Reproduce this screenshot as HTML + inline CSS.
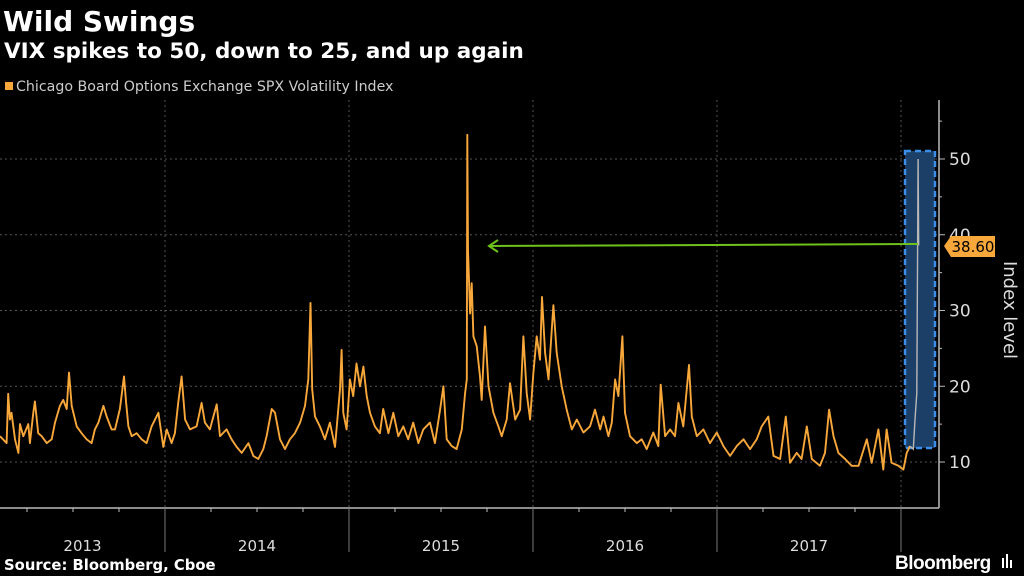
<!DOCTYPE html>
<html><head><meta charset="utf-8">
<style>
html,body{margin:0;padding:0;background:#000;width:1024px;height:576px;overflow:hidden;}
svg{display:block;font-family:"DejaVu Sans","Liberation Sans",sans-serif;}
</style></head>
<body>
<svg id="chart" width="1024" height="576" viewBox="0 0 1024 576">
  <text x="3" y="31" fill="#fff" font-size="28" font-weight="bold">Wild Swings</text>
  <text x="4" y="58" fill="#fff" font-size="21.5" font-weight="bold">VIX spikes to 50, down to 25, and up again</text>
  <g>
    <rect x="5" y="82" width="8" height="8" fill="#f8a73a"/>
    <text x="16" y="91" fill="#ccc" font-size="14.2">Chicago Board Options Exchange SPX Volatility Index</text>
  </g>
  <g id="grid"></g>
  <g id="xaxis"></g>
  <g id="yaxis"></g>
  <rect x="905" y="151" width="30" height="297" fill="#1b3f66" stroke="#3b8fe8" stroke-width="2.5" stroke-dasharray="6,4"/>
  <g id="series"></g>
  <g>
    <line x1="918" y1="244" x2="489" y2="246" stroke="#6fc21b" stroke-width="2"/>
    <polyline points="498,240 489,246 498,252" fill="none" stroke="#6fc21b" stroke-width="2"/>
  </g>
  <g>
    <path d="M944,246 L951,236 L995,236 L995,257 L951,257 Z" fill="#f8a73a"/>
    <text x="973" y="252" fill="#000" font-size="15" text-anchor="middle">38.60</text>
  </g>
  <text transform="translate(1004,310) rotate(90)" fill="#ddd" font-size="18" text-anchor="middle">Index level</text>
  <text x="4" y="570" fill="#fff" font-size="14.8" font-weight="bold">Source: Bloomberg, Cboe</text>
  <text x="895" y="569" fill="#fff" font-size="19" font-weight="bold" letter-spacing="-0.5" font-family="Liberation Sans, sans-serif">Bloomberg</text>
  <g>
    <rect x="1002" y="558" width="2" height="10" fill="#fff"/><rect x="1006" y="554" width="2" height="14" fill="#fff"/><rect x="1010" y="560" width="2" height="8" fill="#fff"/>
  </g>
</svg>
<script>
const dates=[2013.103,2013.139,2013.148,2013.157,2013.166,2013.185,2013.203,2013.212,2013.230,2013.257,2013.266,2013.284,2013.293,2013.311,2013.330,2013.357,2013.384,2013.402,2013.429,2013.447,2013.466,2013.478,2013.493,2013.520,2013.547,2013.574,2013.601,2013.619,2013.638,2013.665,2013.683,2013.710,2013.728,2013.755,2013.777,2013.788,2013.801,2013.819,2013.846,2013.873,2013.900,2013.927,2013.964,2013.991,2014.009,2014.036,2014.054,2014.072,2014.090,2014.109,2014.136,2014.172,2014.199,2014.217,2014.244,2014.281,2014.299,2014.335,2014.362,2014.389,2014.417,2014.453,2014.480,2014.507,2014.534,2014.552,2014.580,2014.598,2014.625,2014.652,2014.679,2014.706,2014.734,2014.761,2014.779,2014.791,2014.800,2014.815,2014.842,2014.869,2014.896,2014.924,2014.951,2014.960,2014.969,2014.987,2015.005,2015.023,2015.041,2015.060,2015.078,2015.096,2015.114,2015.141,2015.168,2015.186,2015.214,2015.241,2015.268,2015.295,2015.322,2015.349,2015.377,2015.404,2015.440,2015.467,
2015.495,2015.513,2015.531,2015.558,2015.585,2015.613,2015.631,2015.640,2015.643,2015.647,2015.658,2015.667,2015.676,2015.694,2015.712,2015.721,2015.739,2015.758,2015.785,2015.812,2015.830,2015.857,2015.875,2015.903,2015.930,2015.948,2015.966,2015.984,2016.002,2016.020,2016.038,2016.049,2016.066,2016.084,2016.111,2016.129,2016.156,2016.183,2016.211,2016.238,2016.274,2016.310,2016.337,2016.365,2016.383,2016.410,2016.428,2016.446,2016.464,2016.486,2016.500,2016.527,2016.564,2016.591,2016.618,2016.654,2016.681,2016.694,2016.718,2016.745,2016.772,2016.790,2016.817,2016.848,2016.863,2016.890,2016.926,2016.962,2016.999,2017.035,2017.071,2017.107,2017.144,2017.180,2017.216,2017.243,2017.279,2017.307,2017.343,2017.374,2017.397,2017.433,2017.460,2017.488,2017.515,2017.560,2017.587,2017.609,2017.633,2017.660,2017.696,2017.732,2017.769,2017.814,2017.841,2017.877,2017.904,2017.922,2017.949,2017.986,2018.013,2018.031,2018.049,2018.067,2018.076,2018.086,2018.093,2018.096];
const vix=[13.4,12.5,19,15.6,16.5,13,11.2,15,13.4,15,12.5,16.5,18,13.8,13.4,12.5,13,15.2,17.4,18.2,17,21.8,17.4,14.7,13.8,13,12.5,14.3,15.2,17.4,16,14.3,14.3,17,21.3,18,14.7,13.4,13.8,13,12.5,14.7,16.5,12,14.3,12.5,13.8,17.8,21.3,15.6,14.3,14.7,17.8,15.2,14.3,17.6,13.4,14.3,13,12,11.2,12.5,10.8,10.4,11.7,13.4,17,16.5,13,11.7,13,13.8,15.2,17.4,20.9,31,19.6,16,14.7,13,15.2,12,19.6,24.8,16.5,14.3,20.9,18.7,23,20,22.6,18.7,16.5,14.7,13.8,17,13.8,16.5,13.4,14.7,13,15.2,12.5,14.3,15.2,12.5,
16.9,20,13,12.1,11.7,14.3,19.1,20.9,53.2,38,29.6,33.6,26.6,25.3,21.3,18.2,27.9,20,16.5,14.7,13.4,15.6,20.4,15.6,16.9,26.6,19.1,15.6,21.8,26.6,23.5,31.8,24.4,20.9,30.7,24.4,20,16.9,14.3,15.6,13.9,14.7,16.9,14.3,16,13.4,15.2,20.9,18.7,26.6,16.5,13.4,12.5,13,11.7,13.9,12.1,20.2,13.4,14.3,13.4,17.8,14.7,22.8,16,13.4,14.3,12.5,13.9,12.1,10.8,12.1,13,11.7,13,14.7,16,10.8,10.4,16,9.9,11.2,10.4,14.7,10.4,9.5,11.2,16.9,13.4,11.2,10.4,9.5,9.5,13,9.9,14.3,9,14.3,9.9,9.5,9,11.2,12.1,11.7,15.6,19.1,50,38.6];
const yTicks=[10,20,30,40,50];
const years=["2013","2014","2015","2016","2017"];
const yearStarts=[2014,2015,2016,2017,2018];
const grayFrom=2018.05;

const NS="http://www.w3.org/2000/svg";
const X0=165,PXY=184,plotTop=100,plotBottom=508,axisX=939;
function xs(t){return X0+(t-2014)*PXY;}
function ys(v){return 462-(v-10)*7.575;}
function mk(tag,attrs,parent){const e=document.createElementNS(NS,tag);for(const k in attrs)e.setAttribute(k,attrs[k]);parent.appendChild(e);return e;}
const grid=document.getElementById('grid'),xa=document.getElementById('xaxis'),ya=document.getElementById('yaxis'),ser=document.getElementById('series');

yTicks.forEach(v=>{
  const l=mk('line',{x1:0,x2:axisX,y1:ys(v),y2:ys(v),stroke:'#555','stroke-width':1,'stroke-dasharray':'2,3'},grid);
  
  
  const tk=mk('line',{x1:axisX,x2:axisX+6,y1:ys(v),y2:ys(v),stroke:'#bbb'},ya);
  
  
  const tx=mk('text',{x:axisX+10,y:ys(v)+6,fill:'#ddd','font-size':17},ya);
  tx.textContent=v;
  
  
});
for(let v=15;v<=55;v+=10){
  const m=mk('line',{x1:axisX,x2:axisX+3,y1:ys(v),y2:ys(v),stroke:'#bbb'},ya);
  
  
}
const ax=mk('line',{x1:axisX,x2:axisX,y1:plotTop,y2:plotBottom,stroke:'#bbb','stroke-width':1.5},ya);


const bx=mk('line',{x1:0,x2:axisX,y1:plotBottom,y2:plotBottom,stroke:'#bbb','stroke-width':1.5},xa);



yearStarts.forEach(t=>{
  const g=mk('line',{x1:xs(t),x2:xs(t),y1:plotTop,y2:plotBottom,stroke:'#555','stroke-dasharray':'2,3'},grid);
  
  
  const s=mk('line',{x1:xs(t),x2:xs(t),y1:plotBottom,y2:552,stroke:'#777'},xa);
  
  
});
for(let t=2013;t<2018.2;t+=0.25){
  if(xs(t)<2||Math.abs(t-Math.round(t))<0.01)continue;
  const q=mk('line',{x1:xs(t),x2:xs(t),y1:plotBottom,y2:plotBottom+4,stroke:'#bbb'},xa);
  
  
}
years.forEach((y,i)=>{
  const a=Math.max(0,xs(yearStarts[i]-1)),b=xs(yearStarts[i]);
  const tx=mk('text',{x:(a+b)/2,y:551,fill:'#ddd','font-size':15,'text-anchor':'middle'},xa);
  tx.textContent=y;
  
  
});

let orange=[],gray=[];
dates.forEach((t,i)=>{
  const p=xs(t).toFixed(1)+','+ys(vix[i]).toFixed(1);
  if(t<grayFrom)orange.push(p);else{ if(!gray.length)gray.push(orange[orange.length-1]); gray.push(p);}
});
const pl=mk('polyline',{points:orange.join(' '),fill:'none',stroke:'#f8a73a','stroke-width':1.9,'stroke-linejoin':'round'},ser);


const pg=mk('polyline',{points:gray.join(' '),fill:'none',stroke:'#b8b8b8','stroke-width':1.4},ser);


</script>
</body></html>
